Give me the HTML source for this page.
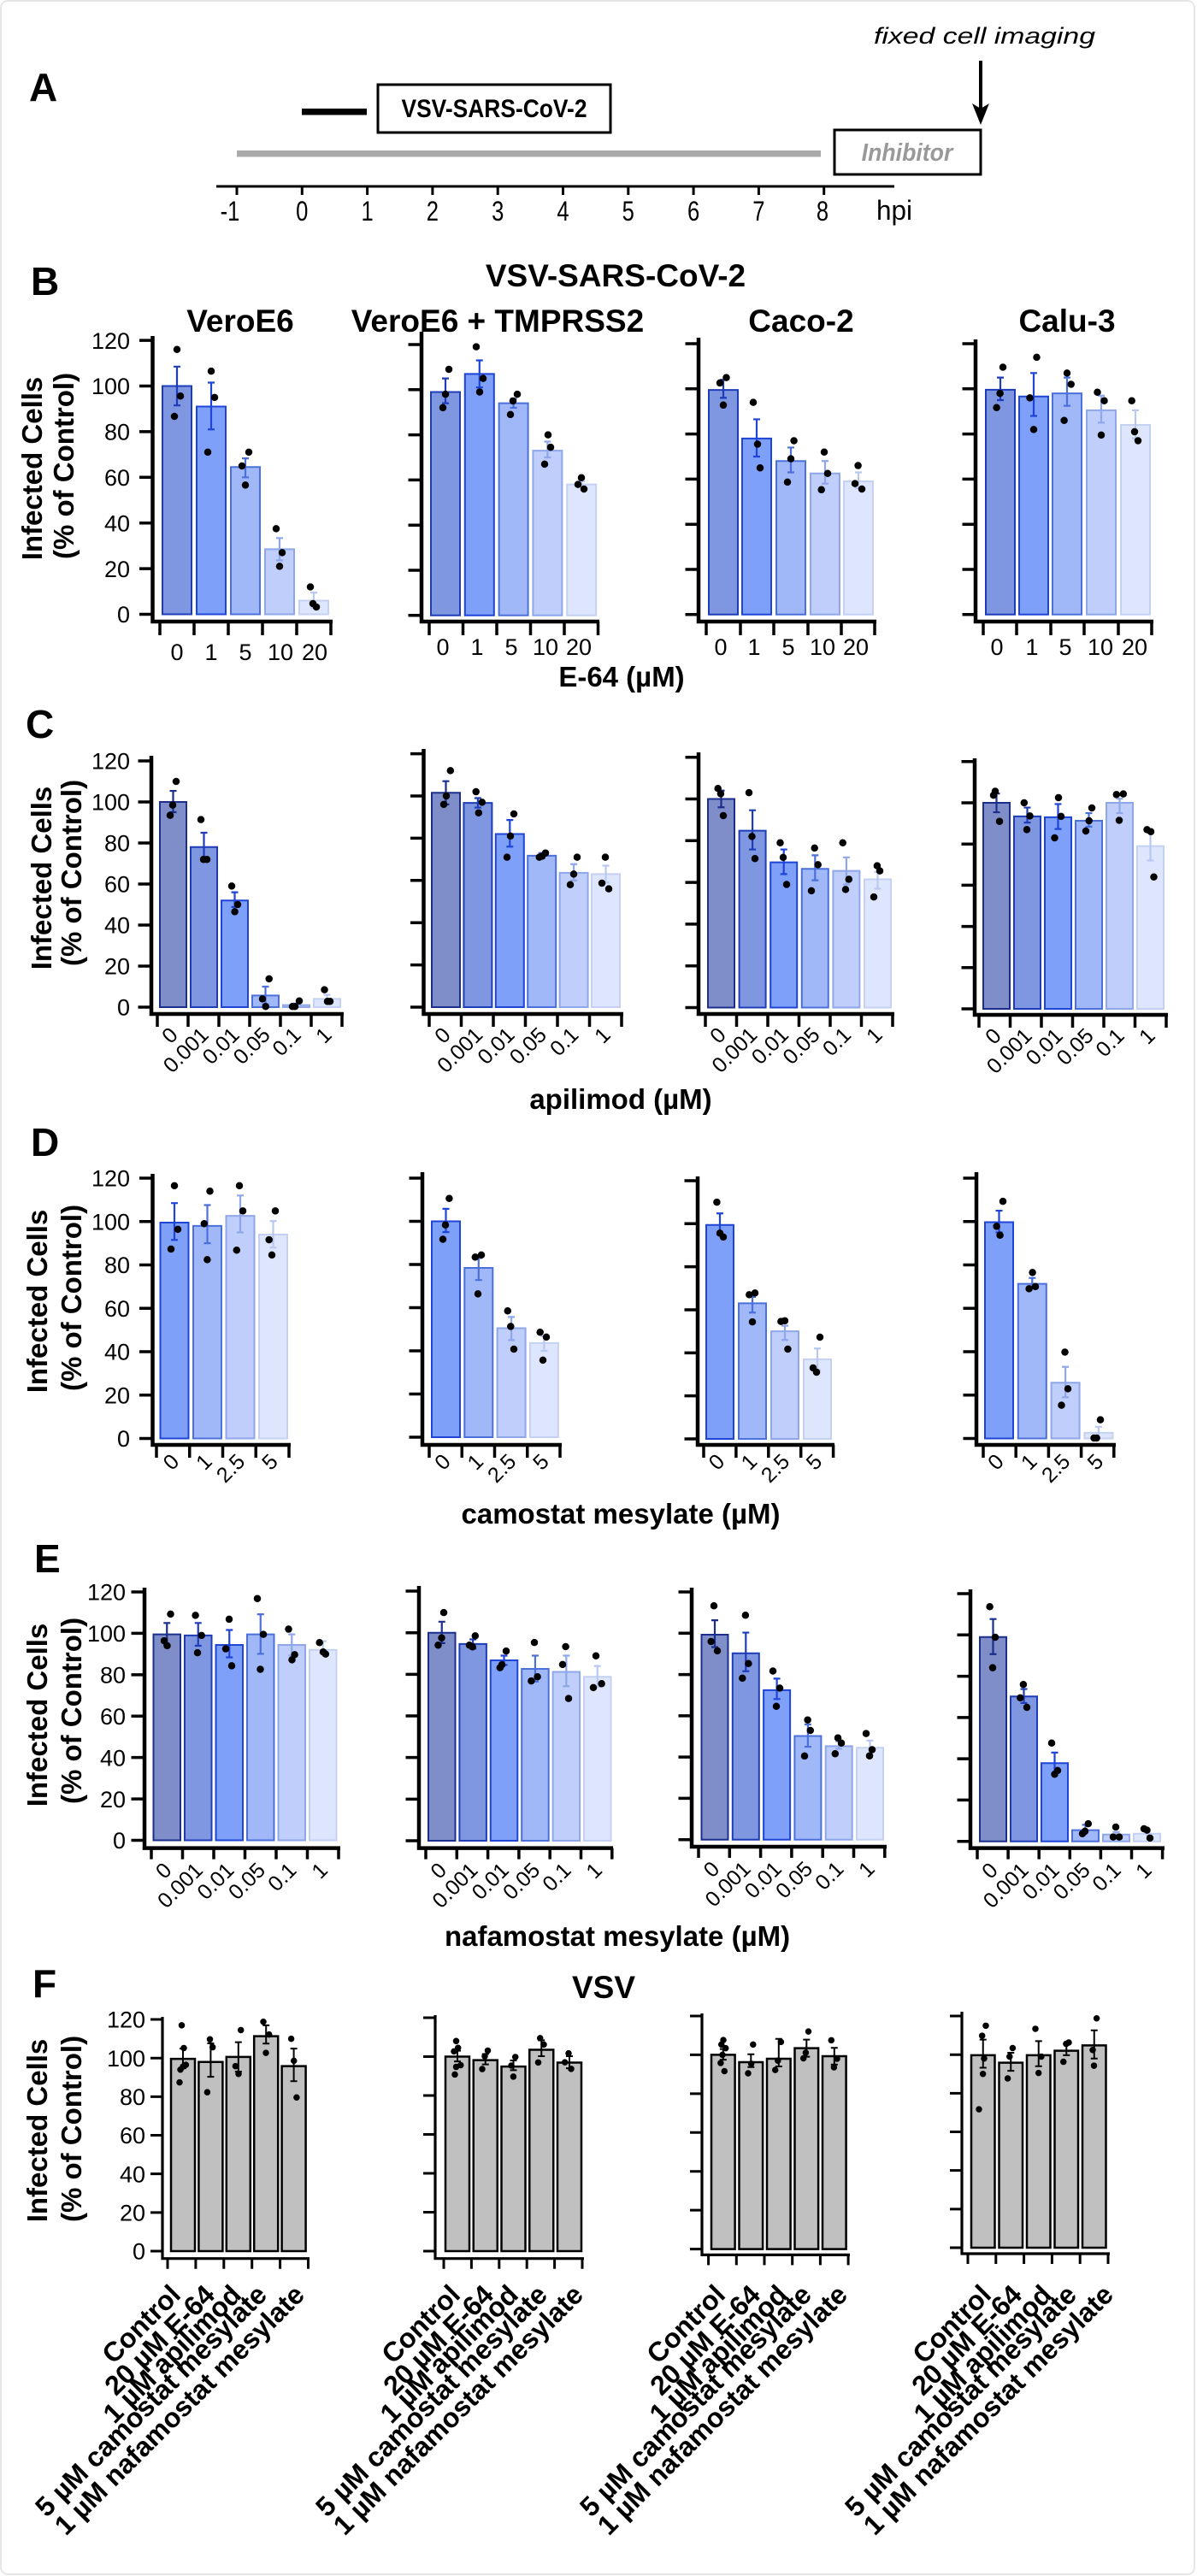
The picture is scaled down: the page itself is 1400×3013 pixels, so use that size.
<!DOCTYPE html>
<html><head><meta charset="utf-8"><style>
html,body{margin:0;padding:0;background:#fff}
svg{display:block}
text{font-family:"Liberation Sans",Arial,sans-serif;fill:#000}
.g *{vector-effect:non-scaling-stroke}
.g rect{stroke-width:2}
.t{stroke:#000;stroke-width:3.5;fill:none}
.e{fill:none;stroke-width:2.2}
.d{fill:none;stroke:#000;stroke-width:8.5;stroke-linecap:round}
.ax{fill:none;stroke:#000;stroke-width:4.5;stroke-linejoin:miter}
.xt{fill:none;stroke:#000;stroke-width:3.5}
.k0{fill:#7f8ec8;stroke:#1b2e8c}.k1{fill:#7f97e0;stroke:#1f3cb8}.k2{fill:#7fa0f8;stroke:#1e44d8}.k3{fill:#a0b8f8;stroke:#4c70da}.k4{fill:#bfcefa;stroke:#8fa7e8}.k5{fill:#dde6fc;stroke:#c4d1f3}
.e0{stroke:#1b2e8c}.e1{stroke:#1f3cb8}.e2{stroke:#1e44d8}.e3{stroke:#4c70da}.e4{stroke:#8fa7e8}.e5{stroke:#b8c8f0}
.f rect{fill:#c0c0c0;stroke:#000;stroke-width:2.5}
.f .e{stroke:#000;stroke-width:2}
.f .d{stroke-width:7.5}
.f .t{stroke-width:3}
.fax{fill:none;stroke:#000;stroke-width:3.2}
.fxt{fill:none;stroke:#000;stroke-width:3}
.yl{font-size:27px;text-anchor:end}
.xl{font-size:27px;text-anchor:middle}
.rl{font-size:25px;text-anchor:end}
.fl{font-size:32px;font-weight:bold;text-anchor:end}
.yt{font-size:33px;font-weight:bold;text-anchor:middle}
.pl{font-size:46px;font-weight:bold}
.tt{font-size:37px;font-weight:bold;text-anchor:middle}
.xtit{font-size:33px;font-weight:bold;text-anchor:middle}
.al{font-size:32px;text-anchor:middle}
</style></head><body>
<svg width="1400" height="3013" viewBox="0 0 1400 3013" xmlns="http://www.w3.org/2000/svg">
<rect x="1" y="1" width="1396" height="3010" rx="8" fill="#fff" stroke="#e6e6e6" stroke-width="2"/>

<!-- Panel A -->
<text class="pl" x="34" y="118">A</text>
<rect x="277" y="176" width="683" height="7.5" fill="#aaa"/>
<rect x="353" y="127" width="76" height="7.5" fill="#000"/>
<rect x="442" y="99" width="272" height="56" fill="none" stroke="#000" stroke-width="3"/>
<text transform="translate(578,137) scale(0.88,1)" text-anchor="middle" font-weight="bold" font-size="30">VSV-SARS-CoV-2</text>
<rect x="976" y="152" width="171" height="52" fill="none" stroke="#000" stroke-width="3"/>
<text transform="translate(1061,188) scale(0.92,1)" text-anchor="middle" font-weight="bold" font-style="italic" font-size="29" style="fill:#999">Inhibitor</text>
<path d="M1147 71V132" stroke="#000" stroke-width="4"/>
<path d="M1137 121L1147 146L1157 121L1147 127Z" fill="#000"/>
<text x="1022" y="51" font-style="italic" font-size="27" textLength="259" lengthAdjust="spacingAndGlyphs">fixed cell imaging</text>
<path d="M253 218H1046" stroke="#000" stroke-width="3"/>
<path d="M277 218v10M353.3 218v10M429.6 218v10M505.9 218v10M582.2 218v10M658.5 218v10M734.8 218v10M811.1 218v10M887.4 218v10M963.7 218v10" stroke="#000" stroke-width="3"/>
<text class="al" transform="translate(269,258) scale(0.8,1)">-1</text>
<text class="al" transform="translate(353.3,258) scale(0.8,1)">0</text>
<text class="al" transform="translate(429.6,258) scale(0.8,1)">1</text>
<text class="al" transform="translate(505.9,258) scale(0.8,1)">2</text>
<text class="al" transform="translate(582.2,258) scale(0.8,1)">3</text>
<text class="al" transform="translate(658.5,258) scale(0.8,1)">4</text>
<text class="al" transform="translate(734.8,258) scale(0.8,1)">5</text>
<text class="al" transform="translate(811.1,258) scale(0.8,1)">6</text>
<text class="al" transform="translate(887.4,258) scale(0.8,1)">7</text>
<text class="al" transform="translate(962,258) scale(0.8,1)">8</text>
<text x="1025" y="257" font-size="32" textLength="42" lengthAdjust="spacingAndGlyphs">hpi</text>

<!-- Panel B -->
<text class="pl" x="36" y="345">B</text>
<text class="tt" x="720" y="335">VSV-SARS-CoV-2</text>
<text class="tt" x="281" y="388">VeroE6</text>
<text class="tt" x="582" y="388">VeroE6 + TMPRSS2</text>
<text class="tt" x="937" y="388">Caco-2</text>
<text class="tt" x="1248" y="388">Calu-3</text>
<text class="yt" transform="translate(49,548) rotate(-90)">Infected Cells</text>
<text class="yt" transform="translate(86,545) rotate(-90)">(% of Control)</text>
<text class="yl" x="152" y="728.2">0</text><text class="yl" x="152" y="674.8">20</text><text class="yl" x="152" y="621.4">40</text><text class="yl" x="152" y="568">60</text><text class="yl" x="152" y="514.6">80</text><text class="yl" x="152" y="461.2">100</text><text class="yl" x="152" y="407.8">120</text>

<path class="ax" d="M178.5 393V727H389"/>
<path class="xt" d="M187 727v16M227 727v16M267 727v16M307 727v16M347 727v16M387 727v16"/>
<g class="g" transform="translate(0,718.5) scale(1,-2.67)">
<path class="t" d="M163 0h15.5M163 20h15.5M163 40h15.5M163 60h15.5M163 80h15.5M163 100h15.5M163 120h15.5"/>
<rect class="k1" x="190" width="34" height="100"/><rect class="k2" x="230" width="34" height="91"/><rect class="k3" x="270" width="34" height="64.5"/><rect class="k4" x="310" width="34" height="28.5"/><rect class="k5" x="350" width="34" height="6"/>
<path class="e e1" d="M207 91.5V108.5M203 108.5h8M203 91.5h8"/>
<path class="e e2" d="M247 81V101.5M243 101.5h8M243 81h8"/>
<path class="e e3" d="M287 60V68.3M283 68.3h8M283 60h8"/>
<path class="e e4" d="M327 23.6V33.4M323 33.4h8M323 23.6h8"/>
<path class="e e5" d="M367 3V9.5M363 9.5h8M363 3h8"/>
<path class="d" d="M207 116h.01M211 95.6h.01M204 86.7h.01M247 106.5h.01M251 95h.01M243 71h.01M291 71h.01M283 65h.01M287 56.6h.01M323 37.5h.01M330 27h.01M327 21h.01M363 12h.01M366 4.7h.01M370 3.2h.01"/>
</g>
<text class="xl" x="207" y="772">0</text><text class="xl" x="247" y="772">1</text><text class="xl" x="287" y="772">5</text><text class="xl" x="328" y="772">10</text><text class="xl" x="368" y="772">20</text>

<path class="ax" d="M493 388V727H701"/>
<path class="xt" d="M502 727v16M541.5 727v16M581 727v16M620.5 727v16M660 727v16M699.5 727v16"/>
<g class="g" transform="translate(0,719.8) scale(1,-2.64)">
<path class="t" d="M477.5 0h15.5M477.5 20h15.5M477.5 40h15.5M477.5 60h15.5M477.5 80h15.5M477.5 100h15.5M477.5 120h15.5"/>
<rect class="k1" x="504" width="34" height="99"/><rect class="k2" x="543.8" width="34" height="107"/><rect class="k3" x="583.6" width="34" height="94"/><rect class="k4" x="623.4" width="34" height="73"/><rect class="k5" x="663.2" width="34" height="58"/>
<path class="e e1" d="M521 94V105M517 105h8M517 94h8"/>
<path class="e e2" d="M560.8 101V113M556.8 113h8M556.8 101h8"/>
<path class="e e3" d="M600.6 92V96M596.6 96h8M596.6 92h8"/>
<path class="e e4" d="M640.4 70V77M636.4 77h8M636.4 70h8"/>
<path class="e e5" d="M680.2 57V59.5M676.2 59.5h8M676.2 57h8"/>
<path class="d" d="M525 109h.01M521 98h.01M518 92h.01M557 119h.01M565 105h.01M561 99h.01M605 98h.01M600 95h.01M597 89h.01M641 80h.01M644 74.5h.01M637 67h.01M680 61h.01M676 58h.01M683 56h.01"/>
</g>
<text class="xl" x="518" y="766">0</text><text class="xl" x="558" y="766">1</text><text class="xl" x="598" y="766">5</text><text class="xl" x="638" y="766">10</text><text class="xl" x="677" y="766">20</text>

<path class="ax" d="M817 395V727H1025"/>
<path class="xt" d="M826 727v16M866 727v16M905 727v16M945 727v16M984 727v16M1023 727v16"/>
<g class="g" transform="translate(0,718.8) scale(1,-2.64)">
<path class="t" d="M801.5 0h15.5M801.5 20h15.5M801.5 40h15.5M801.5 60h15.5M801.5 80h15.5M801.5 100h15.5M801.5 120h15.5"/>
<rect class="k1" x="829" width="34" height="99.5"/><rect class="k2" x="868" width="34" height="78"/><rect class="k3" x="908" width="34" height="68"/><rect class="k4" x="948" width="34" height="62.5"/><rect class="k5" x="987" width="34" height="59"/>
<path class="e e1" d="M846 96V104M842 104h8M842 96h8"/>
<path class="e e2" d="M885 70V86.5M881 86.5h8M881 70h8"/>
<path class="e e3" d="M925 63V74M921 74h8M921 63h8"/>
<path class="e e4" d="M965 58V68M961 68h8M961 58h8"/>
<path class="e e5" d="M1004 56V63M1000 63h8M1000 56h8"/>
<path class="d" d="M849.5 105h.01M842 102.6h.01M846 92.8h.01M881 94h.01M886 75.5h.01M889 65h.01M928.6 77h.01M925 69h.01M921 58.7h.01M964 72h.01M968 62.5h.01M960.7 55.3h.01M1003.6 66h.01M1000 58h.01M1008 55.6h.01"/>
</g>
<text class="xl" x="843" y="766">0</text><text class="xl" x="882" y="766">1</text><text class="xl" x="922" y="766">5</text><text class="xl" x="962" y="766">10</text><text class="xl" x="1001" y="766">20</text>

<path class="ax" d="M1141 397V727H1349"/>
<path class="xt" d="M1150 727v16M1189 727v16M1229 727v16M1268 727v16M1308 727v16M1347 727v16"/>
<g class="g" transform="translate(0,718.8) scale(1,-2.64)">
<path class="t" d="M1125.5 0h15.5M1125.5 20h15.5M1125.5 40h15.5M1125.5 60h15.5M1125.5 80h15.5M1125.5 100h15.5M1125.5 120h15.5"/>
<rect class="k1" x="1153" width="34" height="99.6"/><rect class="k2" x="1192" width="34" height="96.6"/><rect class="k3" x="1231" width="34" height="98"/><rect class="k4" x="1271" width="34" height="90.5"/><rect class="k5" x="1311" width="34" height="84"/>
<path class="e e1" d="M1170 95V105M1166 105h8M1166 95h8"/>
<path class="e e2" d="M1209 88V107M1205 107h8M1205 88h8"/>
<path class="e e3" d="M1248 92.5V105M1244 105h8M1244 92.5h8"/>
<path class="e e4" d="M1288 85V97M1284 97h8M1284 85h8"/>
<path class="e e5" d="M1328 78V90.5M1324 90.5h8M1324 78h8"/>
<path class="d" d="M1173 109.6h.01M1169.6 98h.01M1165.6 91.7h.01M1212.5 114h.01M1204.5 96h.01M1209 82h.01M1248 107h.01M1252.7 102h.01M1244.6 86h.01M1283.5 98.5h.01M1291.5 94.7h.01M1288 79.5h.01M1323.7 94.7h.01M1327 81h.01M1331 77h.01"/>
</g>
<text class="xl" x="1166" y="766">0</text><text class="xl" x="1207" y="766">1</text><text class="xl" x="1246" y="766">5</text><text class="xl" x="1287" y="766">10</text><text class="xl" x="1327" y="766">20</text>
<text class="xtit" x="727" y="803">E-64 (µM)</text>

<!-- Panel C -->
<text class="pl" x="30" y="863">C</text>
<text class="yt" transform="translate(60,1027) rotate(-90)">Infected Cells</text>
<text class="yt" transform="translate(95,1021) rotate(-90)">(% of Control)</text>
<text class="yl" x="152" y="1187.7">0</text><text class="yl" x="152" y="1139.7">20</text><text class="yl" x="152" y="1091.7">40</text><text class="yl" x="152" y="1043.7">60</text><text class="yl" x="152" y="995.7">80</text><text class="yl" x="152" y="947.7">100</text><text class="yl" x="152" y="899.7">120</text>

<path class="ax" d="M177 884V1186H402"/>
<path class="xt" d="M184 1186v15M220 1186v15M256 1186v15M292 1186v15M328 1186v15M364 1186v15M400 1186v15"/>
<g class="g" transform="translate(0,1178) scale(1,-2.4)">
<path class="t" d="M161.5 0h15.5M161.5 20h15.5M161.5 40h15.5M161.5 60h15.5M161.5 80h15.5M161.5 100h15.5M161.5 120h15.5"/>
<rect class="k0" x="187" width="31" height="100"/><rect class="k1" x="223" width="31" height="78"/><rect class="k2" x="259" width="31" height="52"/><rect class="k3" x="295" width="31" height="5.7"/><rect class="k4" x="331" width="31" height="1"/><rect class="k5" x="367" width="31" height="4"/>
<path class="e e0" d="M202.5 95V105.4M198.5 105.4h8M198.5 95h8"/>
<path class="e e1" d="M238.5 72.6V85M234.5 85h8M234.5 72.6h8"/>
<path class="e e2" d="M274.5 48.8V56M270.5 56h8M270.5 48.8h8"/>
<path class="e e3" d="M310.5 1.3V10M306.5 10h8M306.5 1.3h8"/>
<path class="e e4" d="M346.5 0.3V1.8M342.5 1.8h8"/>
<path class="e e5" d="M382.5 2V6M378.5 6h8M378.5 2h8"/>
<path class="d" d="M206 110h.01M202 98.5h.01M199 93.5h.01M235 91.4h.01M238 72h.01M242 72h.01M271 59h.01M278 50h.01M274.6 46.5h.01M314.7 13.8h.01M307 4h.01M310.7 0.3h.01M350 3h.01M345 0.3h.01M342 0.3h.01M379.5 8.5h.01M383 2.8h.01M386 2.8h.01"/>
</g>
<text class="rl" transform="translate(209.5,1212) rotate(-45)">0</text><text class="rl" transform="translate(245.5,1212) rotate(-45)">0.001</text><text class="rl" transform="translate(281.5,1212) rotate(-45)">0.01</text><text class="rl" transform="translate(317.5,1212) rotate(-45)">0.05</text><text class="rl" transform="translate(353.5,1212) rotate(-45)">0.1</text><text class="rl" transform="translate(389.5,1212) rotate(-45)">1</text>

<path class="ax" d="M495.5 876V1186H729"/>
<path class="xt" d="M502 1186v15M539.5 1186v15M577 1186v15M614.5 1186v15M652 1186v15M689.5 1186v15M727 1186v15"/>
<g class="g" transform="translate(0,1178) scale(1,-2.47)">
<path class="t" d="M480 0h15.5M480 20h15.5M480 40h15.5M480 60h15.5M480 80h15.5M480 100h15.5M480 120h15.5"/>
<rect class="k0" x="505" width="33" height="101.5"/><rect class="k1" x="542.4" width="33" height="96.7"/><rect class="k2" x="579.8" width="33" height="82"/><rect class="k3" x="617.2" width="33" height="71.7"/><rect class="k4" x="654.6" width="33" height="63.6"/><rect class="k5" x="692" width="33" height="63"/>
<path class="e e0" d="M521.5 96V107M517.5 107h8M517.5 96h8"/>
<path class="e e1" d="M558.9 94.5V99M554.9 99h8M554.9 94.5h8"/>
<path class="e e2" d="M596.3 76V88.6M592.3 88.6h8M592.3 76h8"/>
<path class="e e3" d="M633.7 70.5V73M629.7 73h8M629.7 70.5h8"/>
<path class="e e4" d="M671.1 60V67.7M667.1 67.7h8M667.1 60h8"/>
<path class="e e5" d="M708.5 59V67M704.5 67h8M704.5 59h8"/>
<path class="d" d="M526.8 112h.01M522 100h.01M519 96h.01M556.7 102h.01M563.8 97h.01M559.8 92h.01M601 91.5h.01M597 81h.01M593 71h.01M630.8 71h.01M634 71.5h.01M638 73h.01M675 71h.01M671 63h.01M667 58h.01M708 71h.01M704 58.7h.01M712 56h.01"/>
</g>
<text class="rl" transform="translate(528.5,1212) rotate(-45)">0</text><text class="rl" transform="translate(565.9,1212) rotate(-45)">0.001</text><text class="rl" transform="translate(603.3,1212) rotate(-45)">0.01</text><text class="rl" transform="translate(640.7,1212) rotate(-45)">0.05</text><text class="rl" transform="translate(678.1,1212) rotate(-45)">0.1</text><text class="rl" transform="translate(715.5,1212) rotate(-45)">1</text>

<path class="ax" d="M817 880V1186H1046"/>
<path class="xt" d="M825 1186v15M861.5 1186v15M898 1186v15M934.5 1186v15M971 1186v15M1007.5 1186v15M1044 1186v15"/>
<g class="g" transform="translate(0,1178.5) scale(1,-2.44)">
<path class="t" d="M801.5 0h15.5M801.5 20h15.5M801.5 40h15.5M801.5 60h15.5M801.5 80h15.5M801.5 100h15.5M801.5 120h15.5"/>
<rect class="k0" x="828" width="31" height="100"/><rect class="k1" x="864.6" width="31" height="84.8"/><rect class="k2" x="901.2" width="31" height="69.6"/><rect class="k3" x="937.8" width="31" height="66.5"/><rect class="k4" x="974.4" width="31" height="65.5"/><rect class="k5" x="1011" width="31" height="61.5"/>
<path class="e e0" d="M843.5 96V104M839.5 104h8M839.5 96h8"/>
<path class="e e1" d="M880.1 75.8V94.6M876.1 94.6h8M876.1 75.8h8"/>
<path class="e e2" d="M916.7 64V75.8M912.7 75.8h8M912.7 64h8"/>
<path class="e e3" d="M953.3 61V73M949.3 73h8M949.3 61h8"/>
<path class="e e4" d="M989.9 59V72M985.9 72h8M985.9 59h8"/>
<path class="e e5" d="M1026.5 57V65M1022.5 65h8M1022.5 57h8"/>
<path class="d" d="M839.7 105h.01M842.9 102.5h.01M846 92h.01M876 103h.01M879.5 82h.01M883 71.4h.01M912.5 79h.01M916 72h.01M920 59h.01M952.7 76.5h.01M956.7 68.5h.01M949 56h.01M985.7 79h.01M992.8 61.5h.01M989 56.6h.01M1025.9 68h.01M1029 65.5h.01M1022 53h.01"/>
</g>
<text class="rl" transform="translate(850.5,1212) rotate(-45)">0</text><text class="rl" transform="translate(887.1,1212) rotate(-45)">0.001</text><text class="rl" transform="translate(923.7,1212) rotate(-45)">0.01</text><text class="rl" transform="translate(960.3,1212) rotate(-45)">0.05</text><text class="rl" transform="translate(996.9,1212) rotate(-45)">0.1</text><text class="rl" transform="translate(1033.5,1212) rotate(-45)">1</text>

<path class="ax" d="M1140 887V1187H1366"/>
<path class="xt" d="M1145 1187v15M1181.5 1187v15M1218 1187v15M1254.5 1187v15M1291 1187v15M1327.5 1187v15M1364 1187v15"/>
<g class="g" transform="translate(0,1180) scale(1,-2.41)">
<path class="t" d="M1124.5 0h15.5M1124.5 20h15.5M1124.5 40h15.5M1124.5 60h15.5M1124.5 80h15.5M1124.5 100h15.5M1124.5 120h15.5"/>
<rect class="k0" x="1150" width="31" height="100"/><rect class="k1" x="1186" width="31" height="93.4"/><rect class="k2" x="1222" width="31" height="93"/><rect class="k3" x="1258" width="31" height="91.3"/><rect class="k4" x="1294" width="31" height="100"/><rect class="k5" x="1330" width="31" height="79"/>
<path class="e e0" d="M1165.5 95.4V104.5M1161.5 104.5h8M1161.5 95.4h8"/>
<path class="e e1" d="M1201.5 90.4V97.7M1197.5 97.7h8M1197.5 90.4h8"/>
<path class="e e2" d="M1237.5 87.3V99.4M1233.5 99.4h8M1233.5 87.3h8"/>
<path class="e e3" d="M1273.5 88.4V95M1269.5 95h8M1269.5 88.4h8"/>
<path class="e e4" d="M1309.5 95V102M1305.5 102h8M1305.5 95h8"/>
<path class="e e5" d="M1345.5 72V85.5M1341.5 85.5h8M1341.5 72h8"/>
<path class="d" d="M1164 105.6h.01M1162 103.7h.01M1169 91h.01M1197.8 100h.01M1204.5 93.6h.01M1201 87h.01M1238 102.5h.01M1241 93.4h.01M1233.5 83h.01M1277 97.5h.01M1273.7 91.3h.01M1270 86.3h.01M1305.8 104h.01M1313.8 104.3h.01M1309 91.5h.01M1341.5 87h.01M1346 86h.01M1349.5 64h.01"/>
</g>
<text class="rl" transform="translate(1172.5,1213) rotate(-45)">0</text><text class="rl" transform="translate(1208.5,1213) rotate(-45)">0.001</text><text class="rl" transform="translate(1244.5,1213) rotate(-45)">0.01</text><text class="rl" transform="translate(1280.5,1213) rotate(-45)">0.05</text><text class="rl" transform="translate(1316.5,1213) rotate(-45)">0.1</text><text class="rl" transform="translate(1352.5,1213) rotate(-45)">1</text>
<text class="xtit" x="726" y="1297">apilimod (µM)</text>

<!-- Panel D -->
<text class="pl" x="36" y="1352">D</text>
<text class="yt" transform="translate(55,1522) rotate(-90)">Infected Cells</text>
<text class="yt" transform="translate(95,1518) rotate(-90)">(% of Control)</text>
<text class="yl" x="152" y="1692.2">0</text><text class="yl" x="152" y="1641.5">20</text><text class="yl" x="152" y="1590.7">40</text><text class="yl" x="152" y="1540">60</text><text class="yl" x="152" y="1489.2">80</text><text class="yl" x="152" y="1438.5">100</text><text class="yl" x="152" y="1387.7">120</text>

<path class="ax" d="M178.5 1373V1690H340"/>
<path class="xt" d="M183 1690v15M221.75 1690v15M260.5 1690v15M299.25 1690v15M338 1690v15"/>
<g class="g" transform="translate(0,1682.5) scale(1,-2.5375)">
<path class="t" d="M163 0h15.5M163 20h15.5M163 40h15.5M163 60h15.5M163 80h15.5M163 100h15.5M163 120h15.5"/>
<rect class="k2" x="187.5" width="33" height="99.5"/><rect class="k3" x="226" width="33" height="98"/><rect class="k4" x="264.5" width="33" height="102.6"/><rect class="k5" x="303" width="33" height="94"/>
<path class="e e2" d="M204 91.5V108.5M200 108.5h8M200 91.5h8"/>
<path class="e e3" d="M242.5 90V107.6M238.5 107.6h8M238.5 90h8"/>
<path class="e e4" d="M281 95V112M277 112h8M277 95h8"/>
<path class="e e5" d="M319.5 88V100.2M315.5 100.2h8M315.5 88h8"/>
<path class="d" d="M204 116.5h.01M208 96.4h.01M200 87.3h.01M245.5 114h.01M238.8 99h.01M242.4 82.4h.01M280 116.5h.01M284 104.9h.01M276.8 86.8h.01M322 104.9h.01M314.7 91.6h.01M318 84.6h.01"/>
</g>
<text class="rl" transform="translate(211,1711) rotate(-45)">0</text><text class="rl" transform="translate(249.5,1711) rotate(-45)">1</text><text class="rl" transform="translate(288,1711) rotate(-45)">2.5</text><text class="rl" transform="translate(326.5,1711) rotate(-45)">5</text>

<path class="ax" d="M494 1371V1690H657"/>
<path class="xt" d="M502 1690v15M540.25 1690v15M578.5 1690v15M616.75 1690v15M655 1690v15"/>
<g class="g" transform="translate(0,1681) scale(1,-2.525)">
<path class="t" d="M478.5 0h15.5M478.5 20h15.5M478.5 40h15.5M478.5 60h15.5M478.5 80h15.5M478.5 100h15.5M478.5 120h15.5"/>
<rect class="k2" x="505" width="33" height="100"/><rect class="k3" x="543.3" width="33" height="78.4"/><rect class="k4" x="581.6" width="33" height="50.5"/><rect class="k5" x="619.9" width="33" height="43.6"/>
<path class="e e2" d="M521.5 95V105.8M517.5 105.8h8M517.5 95h8"/>
<path class="e e3" d="M559.8 72.8V83M555.8 83h8M555.8 72.8h8"/>
<path class="e e4" d="M598.1 45V55.7M594.1 55.7h8M594.1 45h8"/>
<path class="e e5" d="M636.4 40V46.7M632.4 46.7h8M632.4 40h8"/>
<path class="d" d="M525.4 110.6h.01M521 98.3h.01M518 91.7h.01M563 84.4h.01M555.8 83.4h.01M559 66.4h.01M593.75 58.5h.01M597.3 51.3h.01M601 40.8h.01M631.7 48.6h.01M639 46.4h.01M635 35.7h.01"/>
</g>
<text class="rl" transform="translate(528.5,1711) rotate(-45)">0</text><text class="rl" transform="translate(566.8,1711) rotate(-45)">1</text><text class="rl" transform="translate(605.1,1711) rotate(-45)">2.5</text><text class="rl" transform="translate(643.4,1711) rotate(-45)">5</text>

<path class="ax" d="M816 1376V1690H976"/>
<path class="xt" d="M823 1690v15M860.9 1690v15M898.8 1690v15M936.7 1690v15M974.6 1690v15"/>
<g class="g" transform="translate(0,1683) scale(1,-2.517)">
<path class="t" d="M800.5 0h15.5M800.5 20h15.5M800.5 40h15.5M800.5 60h15.5M800.5 80h15.5M800.5 100h15.5M800.5 120h15.5"/>
<rect class="k2" x="826" width="32" height="99.4"/><rect class="k3" x="864" width="32" height="63"/><rect class="k4" x="902" width="32" height="50"/><rect class="k5" x="940" width="32" height="37"/>
<path class="e e2" d="M842 95V104.8M838 104.8h8M838 95h8"/>
<path class="e e3" d="M880 58.7V66M876 66h8M876 58.7h8"/>
<path class="e e4" d="M918 46V52.6M914 52.6h8M914 46h8"/>
<path class="e e5" d="M956 32V42M952 42h8M952 32h8"/>
<path class="d" d="M838.4 110h.01M842 95.6h.01M846 93.8h.01M876.3 67h.01M883 67.8h.01M880 54.4h.01M913.4 54.6h.01M917.9 54.9h.01M921.4 41.7h.01M959 47.3h.01M951 33h.01M955 31h.01"/>
</g>
<text class="rl" transform="translate(849,1711) rotate(-45)">0</text><text class="rl" transform="translate(887,1711) rotate(-45)">1</text><text class="rl" transform="translate(925,1711) rotate(-45)">2.5</text><text class="rl" transform="translate(963,1711) rotate(-45)">5</text>

<path class="ax" d="M1142 1371V1690H1305"/>
<path class="xt" d="M1150 1690v15M1188.2 1690v15M1226.4 1690v15M1264.6 1690v15M1302.8 1690v15"/>
<g class="g" transform="translate(0,1682.5) scale(1,-2.5375)">
<path class="t" d="M1126.5 0h15.5M1126.5 20h15.5M1126.5 40h15.5M1126.5 60h15.5M1126.5 80h15.5M1126.5 100h15.5M1126.5 120h15.5"/>
<rect class="k2" x="1152" width="33" height="99.7"/><rect class="k3" x="1190.8" width="33" height="71.3"/><rect class="k4" x="1229.6" width="33" height="25.7"/><rect class="k5" x="1268.4" width="33" height="2.6"/>
<path class="e e2" d="M1168.5 95V105M1164.5 105h8M1164.5 95h8"/>
<path class="e e3" d="M1207.3 70V74M1203.3 74h8M1203.3 70h8"/>
<path class="e e4" d="M1246.1 19V33M1242.1 33h8M1242.1 19h8"/>
<path class="e e5" d="M1284.9 0.5V5.4M1280.9 5.4h8"/>
<path class="d" d="M1173 109.3h.01M1165.6 97.8h.01M1169.6 93.7h.01M1207.6 76.5h.01M1203.6 69h.01M1211 70h.01M1245.5 39.8h.01M1249 22.9h.01M1241.5 15.3h.01M1287 8.6h.01M1279.5 0.2h.01M1282.6 0.2h.01"/>
</g>
<text class="rl" transform="translate(1175.5,1711) rotate(-45)">0</text><text class="rl" transform="translate(1214.3,1711) rotate(-45)">1</text><text class="rl" transform="translate(1253.1,1711) rotate(-45)">2.5</text><text class="rl" transform="translate(1291.9,1711) rotate(-45)">5</text>
<text class="xtit" x="726" y="1782">camostat mesylate (µM)</text>

<!-- Panel E -->
<text class="pl" x="40" y="1839">E</text>
<text class="yt" transform="translate(55,2006) rotate(-90)">Infected Cells</text>
<text class="yt" transform="translate(95,2001) rotate(-90)">(% of Control)</text>
<text class="yl" x="147" y="2162.2">0</text><text class="yl" x="147" y="2113.8">20</text><text class="yl" x="147" y="2065.4">40</text><text class="yl" x="147" y="2016.9">60</text><text class="yl" x="147" y="1968.5">80</text><text class="yl" x="147" y="1920.1">100</text><text class="yl" x="147" y="1871.7">120</text>

<path class="ax" d="M169 1857V2161.6H398"/>
<path class="xt" d="M177 2161.6v13M213.5 2161.6v13M250 2161.6v13M286.5 2161.6v13M323 2161.6v13M359.5 2161.6v13M396 2161.6v13"/>
<g class="g" transform="translate(0,2152.5) scale(1,-2.421)">
<path class="t" d="M153.5 0h15.5M153.5 20h15.5M153.5 40h15.5M153.5 60h15.5M153.5 80h15.5M153.5 100h15.5M153.5 120h15.5"/>
<rect class="k0" x="179.5" width="31.5" height="99.5"/><rect class="k1" x="216" width="31.5" height="99"/><rect class="k2" x="252.5" width="31.5" height="94.4"/><rect class="k3" x="289" width="31.5" height="99.5"/><rect class="k4" x="325.5" width="31.5" height="94.4"/><rect class="k5" x="362" width="31.5" height="92"/>
<path class="e e0" d="M195.25 94.4V105M191.25 105h8M191.25 94.4h8"/>
<path class="e e1" d="M231.75 94V105M227.75 105h8M227.75 94h8"/>
<path class="e e2" d="M268.25 88.4V101.6M264.25 101.6h8M264.25 88.4h8"/>
<path class="e e3" d="M304.75 90.1V109.2M300.75 109.2h8M300.75 90.1h8"/>
<path class="e e4" d="M341.25 89.3V99.5M337.25 99.5h8M337.25 89.3h8"/>
<path class="e e5" d="M377.75 90.5V96.2M373.75 96.2h8M373.75 90.5h8"/>
<path class="d" d="M199.5 109.3h.01M192 96.4h.01M195.5 94h.01M228.6 108.7h.01M235.7 99h.01M231 90.6h.01M268 106.8h.01M264 92.5h.01M271 84.3h.01M301 116.8h.01M308 99.5h.01M304.5 82.6h.01M337.5 102h.01M344.6 89.7h.01M341.5 87.2h.01M373.7 95.5h.01M378 91h.01M380.8 90h.01"/>
</g>
<text class="rl" transform="translate(202.25,2189) rotate(-45)">0</text><text class="rl" transform="translate(238.75,2189) rotate(-45)">0.001</text><text class="rl" transform="translate(275.25,2189) rotate(-45)">0.01</text><text class="rl" transform="translate(311.75,2189) rotate(-45)">0.05</text><text class="rl" transform="translate(348.25,2189) rotate(-45)">0.1</text><text class="rl" transform="translate(384.75,2189) rotate(-45)">1</text>

<path class="ax" d="M490 1855V2161.6H717"/>
<path class="xt" d="M498 2161.6v13M534.3 2161.6v13M570.6 2161.6v13M606.9 2161.6v13M643.2 2161.6v13M679.5 2161.6v13M715.8 2161.6v13"/>
<g class="g" transform="translate(0,2153) scale(1,-2.433)">
<path class="t" d="M474.5 0h15.5M474.5 20h15.5M474.5 40h15.5M474.5 60h15.5M474.5 80h15.5M474.5 100h15.5M474.5 120h15.5"/>
<rect class="k0" x="501" width="31.5" height="100"/><rect class="k1" x="537.4" width="31.5" height="94.6"/><rect class="k2" x="573.8" width="31.5" height="86.7"/><rect class="k3" x="610.2" width="31.5" height="82.6"/><rect class="k4" x="646.6" width="31.5" height="81.2"/><rect class="k5" x="683" width="31.5" height="78.8"/>
<path class="e e0" d="M516.75 95V105.3M512.75 105.3h8M512.75 95h8"/>
<path class="e e1" d="M553.15 92.3V96.8M549.15 96.8h8M549.15 92.3h8"/>
<path class="e e2" d="M589.55 84.5V89M585.55 89h8M585.55 84.5h8"/>
<path class="e e3" d="M625.95 76.5V89M621.95 89h8M621.95 76.5h8"/>
<path class="e e4" d="M662.35 74.3V89M658.35 89h8M658.35 74.3h8"/>
<path class="e e5" d="M698.75 74V84M694.75 84h8M694.75 74h8"/>
<path class="d" d="M519 109.7h.01M516.5 97.5h.01M512.5 94h.01M555.8 98.5h.01M549 94h.01M552.7 93.2h.01M592 91.2h.01M587 84.6h.01M584.8 83.2h.01M625 95.3h.01M628.6 78.8h.01M621.4 76.8h.01M661.6 93.3h.01M658 84.7h.01M665 68.4h.01M697 88.9h.01M703.6 75.5h.01M694 73.6h.01"/>
</g>
<text class="rl" transform="translate(523.75,2189) rotate(-45)">0</text><text class="rl" transform="translate(560.15,2189) rotate(-45)">0.001</text><text class="rl" transform="translate(596.55,2189) rotate(-45)">0.01</text><text class="rl" transform="translate(632.95,2189) rotate(-45)">0.05</text><text class="rl" transform="translate(669.35,2189) rotate(-45)">0.1</text><text class="rl" transform="translate(705.75,2189) rotate(-45)">1</text>

<path class="ax" d="M809 1857V2160H1037"/>
<path class="xt" d="M817 2160v13M853.3 2160v13M889.6 2160v13M925.9 2160v13M962.2 2160v13M998.5 2160v13M1034.8 2160v13"/>
<g class="g" transform="translate(0,2151.7) scale(1,-2.414)">
<path class="t" d="M793.5 0h15.5M793.5 20h15.5M793.5 40h15.5M793.5 60h15.5M793.5 80h15.5M793.5 100h15.5M793.5 120h15.5"/>
<rect class="k0" x="820.5" width="31" height="99.3"/><rect class="k1" x="856.8" width="31" height="90.3"/><rect class="k2" x="893.1" width="31" height="72.4"/><rect class="k3" x="929.4" width="31" height="50.2"/><rect class="k4" x="965.7" width="31" height="45.3"/><rect class="k5" x="1002" width="31" height="44.5"/>
<path class="e e0" d="M836 93.3V106.3M832 106.3h8M832 93.3h8"/>
<path class="e e1" d="M872.3 81.6V100.3M868.3 100.3h8M868.3 81.6h8"/>
<path class="e e2" d="M908.6 68.1V78M904.6 78h8M904.6 68.1h8"/>
<path class="e e3" d="M944.9 45V55.8M940.9 55.8h8M940.9 45h8"/>
<path class="e e4" d="M981.2 44V47.6M977.2 47.6h8M977.2 44h8"/>
<path class="e e5" d="M1017.5 41V48M1013.5 48h8M1013.5 41h8"/>
<path class="d" d="M835 113.3h.01M831.7 96h.01M839 91.5h.01M871.9 108.7h.01M875.4 85.3h.01M868.3 78.2h.01M904 81.7h.01M912 73.4h.01M908 64.6h.01M944.6 58h.01M947.8 52.9h.01M941 40.5h.01M980 49.3h.01M984 46.8h.01M976.8 41.6h.01M1013 51.4h.01M1020 43.6h.01M1017 40.6h.01"/>
</g>
<text class="rl" transform="translate(843,2187.5) rotate(-45)">0</text><text class="rl" transform="translate(879.3,2187.5) rotate(-45)">0.001</text><text class="rl" transform="translate(915.6,2187.5) rotate(-45)">0.01</text><text class="rl" transform="translate(951.9,2187.5) rotate(-45)">0.05</text><text class="rl" transform="translate(988.2,2187.5) rotate(-45)">0.1</text><text class="rl" transform="translate(1024.5,2187.5) rotate(-45)">1</text>

<path class="ax" d="M1135 1859V2161.6H1362"/>
<path class="xt" d="M1143 2161.6v13M1179.1 2161.6v13M1215.2 2161.6v13M1251.3 2161.6v13M1287.4 2161.6v13M1323.5 2161.6v13M1359.6 2161.6v13"/>
<g class="g" transform="translate(0,2153.7) scale(1,-2.414)">
<path class="t" d="M1119.5 0h15.5M1119.5 20h15.5M1119.5 40h15.5M1119.5 60h15.5M1119.5 80h15.5M1119.5 100h15.5M1119.5 120h15.5"/>
<rect class="k0" x="1146" width="31" height="99"/><rect class="k1" x="1182" width="31" height="70.2"/><rect class="k2" x="1218" width="31" height="37.9"/><rect class="k3" x="1254" width="31" height="5.4"/><rect class="k4" x="1290" width="31" height="3.3"/><rect class="k5" x="1326" width="31" height="3.7"/>
<path class="e e0" d="M1161.5 90.7V107.7M1157.5 107.7h8M1157.5 90.7h8"/>
<path class="e e1" d="M1197.5 67V73.8M1193.5 73.8h8M1193.5 67h8"/>
<path class="e e2" d="M1233.5 32.9V43M1229.5 43h8M1229.5 32.9h8"/>
<path class="e e3" d="M1269.5 3V8M1265.5 8h8"/>
<path class="e e4" d="M1305.5 2V4.5M1301.5 4.5h8"/>
<path class="e e5" d="M1341.5 2.5V5M1337.5 5h8"/>
<path class="d" d="M1157.6 113.7h.01M1164 98.9h.01M1161 84.1h.01M1196.9 76h.01M1193.3 69.5h.01M1201 64.9h.01M1230 47.6h.01M1237 34.3h.01M1233.5 32.5h.01M1272.8 8.5h.01M1269 4.9h.01M1266 3.7h.01M1305 6.9h.01M1309 2.1h.01M1302 2.1h.01M1338 6.1h.01M1341.5 5.4h.01M1345 1.6h.01"/>
</g>
<text class="rl" transform="translate(1168.5,2189) rotate(-45)">0</text><text class="rl" transform="translate(1204.5,2189) rotate(-45)">0.001</text><text class="rl" transform="translate(1240.5,2189) rotate(-45)">0.01</text><text class="rl" transform="translate(1276.5,2189) rotate(-45)">0.05</text><text class="rl" transform="translate(1312.5,2189) rotate(-45)">0.1</text><text class="rl" transform="translate(1348.5,2189) rotate(-45)">1</text>
<text class="xtit" x="722" y="2276">nafamostat mesylate (µM)</text>

<!-- Panel F -->
<text class="pl" x="38" y="2336">F</text>
<text class="tt" x="706" y="2337">VSV</text>
<text class="yt" transform="translate(55,2492) rotate(-90)">Infected Cells</text>
<text class="yt" transform="translate(95,2490) rotate(-90)">(% of Control)</text>
<text class="yl" x="170" y="2642.7">0</text><text class="yl" x="170" y="2597.5">20</text><text class="yl" x="170" y="2552.4">40</text><text class="yl" x="170" y="2507.2">60</text><text class="yl" x="170" y="2462.1">80</text><text class="yl" x="170" y="2416.9">100</text><text class="yl" x="170" y="2371.7">120</text>

<path class="fax" d="M190 2359V2641.7H362"/>
<path class="fxt" d="M196 2641.7v12M228.9 2641.7v12M261.8 2641.7v12M294.7 2641.7v12M327.6 2641.7v12M360.5 2641.7v12"/>
<g class="g f" transform="translate(0,2633) scale(1,-2.258)">
<path class="t" d="M176 0h14M176 20h14M176 40h14M176 60h14M176 80h14M176 100h14M176 120h14"/>
<rect x="200" width="28" height="99.6"/><rect x="232.4" width="28" height="98"/><rect x="264.8" width="28" height="100.6"/><rect x="297.2" width="28" height="111.3"/><rect x="329.6" width="28" height="95.8"/>
<path class="e" d="M214 94.7V104.9M210 104.9h8M210 94.7h8M246.4 90.3V107.6M242.4 107.6h8M242.4 90.3h8M278.8 93V108.2M274.8 108.2h8M274.8 93h8M311.2 107.5V117M307.2 117h8M307.2 107.5h8M343.6 88V104.9M339.6 104.9h8M339.6 88h8"/>
<path class="d" d="M212.5 117h.01M215 105.2h.01M217.4 96.5h.01M214 95.6h.01M211 94h.01M210 87.4h.01M245.5 109.7h.01M248.7 105.6h.01M242.4 82.3h.01M281.7 114.5h.01M275.4 95.8h.01M279 91.8h.01M308 118.8h.01M314.7 112.2h.01M311 102.7h.01M340.6 110h.01M343.75 98.6h.01M346.9 79.6h.01"/>
</g>
<text class="fl" transform="translate(213,2686) rotate(-45)">Control</text>
<text class="fl" transform="translate(253,2686) rotate(-45)">20 µM E-64</text>
<text class="fl" transform="translate(284,2686) rotate(-45)">1 µM apilimod</text>
<text class="fl" transform="translate(314,2686) rotate(-45)">5 µM camostat mesylate</text>
<text class="fl" transform="translate(358,2686) rotate(-45)">1 µM nafamostat mesylate</text>

<path class="fax" d="M509 2357V2641.7H683"/>
<path class="fxt" d="M519 2641.7v12M551.4 2641.7v12M583.8 2641.7v12M616.2 2641.7v12M648.6 2641.7v12M681 2641.7v12"/>
<g class="g f" transform="translate(0,2633) scale(1,-2.275)">
<path class="t" d="M495 0h14M495 20h14M495 40h14M495 60h14M495 80h14M495 100h14M495 120h14"/>
<rect x="521" width="28" height="100"/><rect x="553.75" width="28" height="98.2"/><rect x="586.5" width="28" height="94.9"/><rect x="619.25" width="28" height="103.5"/><rect x="652" width="28" height="96.9"/>
<path class="e" d="M535 97.5V103M531 103h8M531 97.5h8M567.75 96V101.3M563.75 101.3h8M563.75 96h8M600.5 93V98M596.5 98h8M596.5 93h8M633.25 100.2V108.4M629.25 108.4h8M629.25 100.2h8M666 94V100.2M662 100.2h8M662 94h8"/>
<path class="d" d="M533.5 108h.01M535.7 104.5h.01M531 102.7h.01M538.8 95.6h.01M533.5 94.7h.01M532 90.8h.01M570.5 103.1h.01M567 100.2h.01M564 93.6h.01M602.7 99.8h.01M598 95.4h.01M600.4 89.7h.01M631.7 109.5h.01M636 106.2h.01M629.5 97h.01M665 101.7h.01M660.7 97.1h.01M668 93.7h.01"/>
</g>
<text class="fl" transform="translate(540,2686) rotate(-45)">Control</text>
<text class="fl" transform="translate(579,2686) rotate(-45)">20 µM E-64</text>
<text class="fl" transform="translate(608,2686) rotate(-45)">1 µM apilimod</text>
<text class="fl" transform="translate(642,2686) rotate(-45)">5 µM camostat mesylate</text>
<text class="fl" transform="translate(684,2686) rotate(-45)">1 µM nafamostat mesylate</text>

<path class="fax" d="M821 2355V2637.4H994"/>
<path class="fxt" d="M828.6 2637.4v12M861.3 2637.4v12M894 2637.4v12M926.7 2637.4v12M959.4 2637.4v12M992.1 2637.4v12"/>
<g class="g f" transform="translate(0,2630.6) scale(1,-2.272)">
<path class="t" d="M807 0h14M807 20h14M807 40h14M807 60h14M807 80h14M807 100h14M807 120h14"/>
<rect x="832" width="27.6" height="100"/><rect x="864.5" width="27.6" height="96.2"/><rect x="897" width="27.6" height="98"/><rect x="929.5" width="27.6" height="103.4"/><rect x="962" width="27.6" height="99.3"/>
<path class="e" d="M845.8 97.5V103M841.8 103h8M841.8 97.5h8M878.3 93.7V100.3M874.3 100.3h8M874.3 93.7h8M910.8 94V108.2M906.8 108.2h8M906.8 94h8M943.3 99V107.8M939.3 107.8h8M939.3 99h8M975.8 95V103.6M971.8 103.6h8M971.8 95h8"/>
<path class="d" d="M846 107.6h.01M843.75 105.3h.01M848.7 103.4h.01M842.9 95.8h.01M847.3 91.6h.01M845 100h.01M880.8 105.3h.01M878.6 95.4h.01M875 90.5h.01M913.4 106.6h.01M909.8 97h.01M906.7 92.2h.01M945.5 112h.01M942.4 101.1h.01M939.7 98.2h.01M972.3 107.5h.01M979 98h.01M975.4 93.6h.01"/>
</g>
<text class="fl" transform="translate(850,2686) rotate(-45)">Control</text>
<text class="fl" transform="translate(891,2686) rotate(-45)">20 µM E-64</text>
<text class="fl" transform="translate(923,2686) rotate(-45)">1 µM apilimod</text>
<text class="fl" transform="translate(951,2686) rotate(-45)">5 µM camostat mesylate</text>
<text class="fl" transform="translate(993,2686) rotate(-45)">1 µM nafamostat mesylate</text>

<path class="fax" d="M1125 2353V2636H1298"/>
<path class="fxt" d="M1132 2636v12M1164.8 2636v12M1197.6 2636v12M1230.4 2636v12M1263.2 2636v12M1296 2636v12"/>
<g class="g f" transform="translate(0,2629) scale(1,-2.258)">
<path class="t" d="M1111 0h14M1111 20h14M1111 40h14M1111 60h14M1111 80h14M1111 100h14M1111 120h14"/>
<rect x="1136" width="27.5" height="99.7"/><rect x="1168.5" width="27.5" height="95.8"/><rect x="1201" width="27.5" height="99.7"/><rect x="1233.5" width="27.5" height="102"/><rect x="1266" width="27.5" height="104.8"/>
<path class="e" d="M1149.75 93.2V107.8M1145.75 107.8h8M1145.75 93.2h8M1182.25 91.6V101M1178.25 101h8M1178.25 91.6h8M1214.75 94V107M1210.75 107h8M1210.75 94h8M1247.25 99.7V105.6M1243.25 105.6h8M1243.25 99.7h8M1279.75 98V112.6M1275.75 112.6h8M1275.75 98h8"/>
<path class="d" d="M1153 115h.01M1148.7 109.8h.01M1151 98h.01M1149.6 90h.01M1145 71.7h.01M1184.4 103.4h.01M1180.8 99h.01M1178.6 87.7h.01M1211 113.4h.01M1217.9 99h.01M1214.7 90.5h.01M1250 106.3h.01M1247 105.6h.01M1243.75 96.3h.01M1282.6 118.8h.01M1278 102.4h.01M1279.5 94.3h.01"/>
</g>
<text class="fl" transform="translate(1161,2686) rotate(-45)">Control</text>
<text class="fl" transform="translate(1197,2686) rotate(-45)">20 µM E-64</text>
<text class="fl" transform="translate(1232,2686) rotate(-45)">1 µM apilimod</text>
<text class="fl" transform="translate(1261,2686) rotate(-45)">5 µM camostat mesylate</text>
<text class="fl" transform="translate(1304,2686) rotate(-45)">1 µM nafamostat mesylate</text>
</svg>
</body></html>
